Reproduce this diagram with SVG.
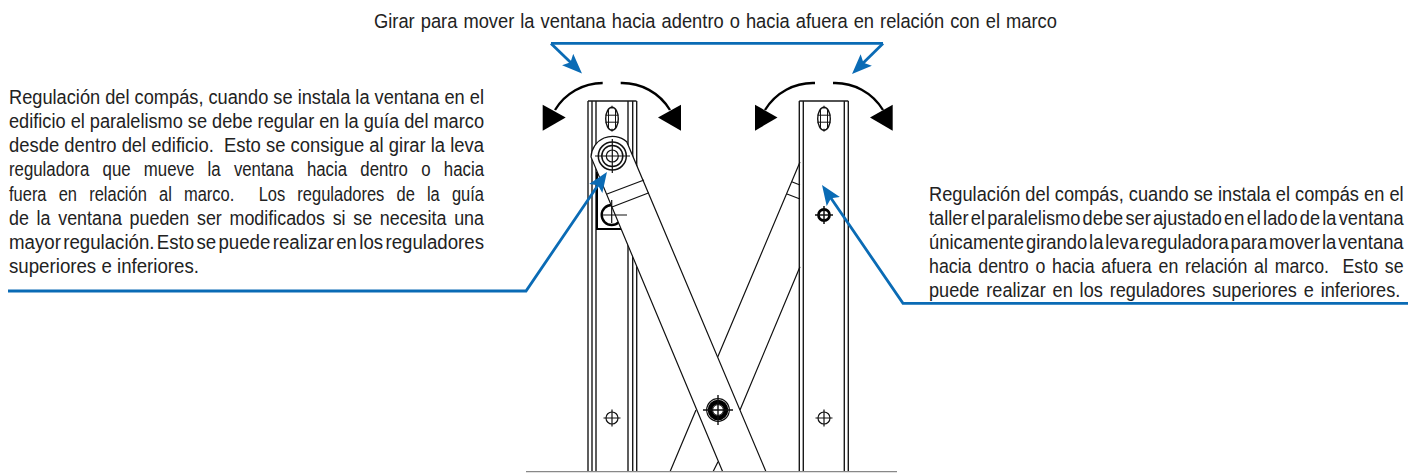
<svg xmlns="http://www.w3.org/2000/svg" width="1408" height="473" viewBox="0 0 1408 473">
<style>
text{font-family:"Liberation Sans",Arial,sans-serif;font-size:19.5px;fill:#222}
.r{stroke:#1a1a1a;stroke-width:1.4;fill:none}
.l{stroke:#111;stroke-width:1.2;fill:none}
.b{stroke:#0a6bb5;stroke-width:2.8;fill:none}
.c{stroke:#000;stroke-width:2.4;fill:none}
.h{fill:#000}
</style>
<defs>
<marker id="blue" markerUnits="userSpaceOnUse" markerWidth="24" markerHeight="18" refX="14" refY="8" orient="auto" viewBox="0 0 24 18"><path d="M0 0L20 8L0 16L4 8Z" fill="#0a6bb5"/></marker>
<g id="hole"><circle r="6" class="l"/><path class="l" d="M-8.5 0H8.5M0-8.5V8.5"/></g>
<g id="slot"><ellipse rx="6.3" ry="11.5" class="l" style="stroke-width:1.4"/><path class="l" d="M-3.5-9.5V9.5M3.5-9.5V9.5M0-13V-10M0 10V13M-6.5 -3.5H6.5M-6.5 3.5H6.5" style="stroke-width:1"/></g>
</defs>
<g id="left-rail">
<path class="r" d="M588 101H636.5M588 101V472M592 101V472M596 101V472M628 101V472M632.7 101V472M636.7 101V472"/>
<path class="c" style="stroke-width:2" d="M597 172V229H621"/>
<use href="#slot" x="612" y="118.7"/>
<use href="#hole" x="612" y="418"/>
<circle cx="611.7" cy="215" r="10" class="c"/>
</g>
<g id="right-rail">
<path class="r" d="M799.3 101H848.3M799.3 101V472M803.3 101V472M844.3 101V472M848.3 101V472"/>
<use href="#slot" x="824" y="118.7"/>
<circle cx="824" cy="215" r="5.5" fill="none" stroke="#000" stroke-width="2.8"/>
<path class="l" style="stroke-width:1.5" d="M815 215H833M824 206V224"/>
<use href="#hole" x="824" y="418"/>
</g>
<g id="back-arm">
<path class="l" d="M800 162L717.7 357M696 410L670 471.7M800 266.7L740 410M718 461.7L713 471.7M791.7 181.7L800 185M787 194L800 199"/>
</g>
<g id="front-arm">
<path d="M591 157A21.5 21.5 0 0 1 626.7 141.7L766 471.7H722.7Z" fill="#fff"/>
<path class="l" d="M722.7 471.7L591 157A21.5 21.5 0 0 1 626.7 141.7L766 471.7M607 194L644 180M612 207L649 192.7"/>
<path class="l" d="M602 215H627M611.7 200V223"/>
<circle cx="612.3" cy="156" r="14" class="l" style="stroke-width:1.5"/>
<circle cx="612.3" cy="156" r="10.5" class="l" style="stroke-width:1.5"/>
<circle cx="612.3" cy="156" r="6" class="l"/>
<path class="l" d="M595 156H630M612.3 139V173"/>
</g>
<g id="pivot">
<circle cx="718" cy="410" r="11.3" class="l"/>
<circle cx="718" cy="410" r="8" fill="none" stroke="#000" stroke-width="4.6"/>
<circle cx="718" cy="410" r="5.4" fill="#fff" stroke="#000"/>
<path class="l" style="stroke-width:1.4" d="M703 410H733M718 395V425"/>
</g>
<g id="base"><path d="M526 471.7H897" stroke="#888" stroke-width="1.3" fill="none"/></g>
<g id="connectors">
<path class="c" d="M602.7 83A56 56 0 0 0 555 110"/>
<path class="c" d="M620.7 83A56 56 0 0 1 670 110"/>
<path class="c" d="M815 83A56 56 0 0 0 765 110"/>
<path class="c" d="M833 83A56 56 0 0 1 883 110"/>
<path class="h" d="M542.7 104.7L565.7 117.5L542.7 130.7Z"/>
<path class="h" d="M681 104.7L658 117.5L681 130.7Z"/>
<path class="h" d="M755 104.7L777.5 117.5L755 130.7Z"/>
<path class="h" d="M892.7 104.7L870 117.5L892.7 130.7Z"/>
<path class="b" d="M551 43.4H883"/>
<path class="b" d="M883 43.4L856.3 69.8" marker-end="url(#blue)"/>
<path class="b" d="M551 43.4L577.7 69.3" marker-end="url(#blue)"/>
<path class="b" d="M8 291H526L603.6 177" marker-end="url(#blue)"/>
<path class="b" d="M1408 303.3H903L825.4 190" marker-end="url(#blue)"/>
</g>
<g id="top-label"><text transform="matrix(.84 0 0 1 374 28.3)" textLength="813" lengthAdjust="spacingAndGlyphs" style="word-spacing:1px">Girar para mover la ventana hacia adentro o hacia afuera en relación con el marco</text></g>
<g id="left-label">
<text x="9" y="104" textLength="475" lengthAdjust="spacingAndGlyphs">Regulación del compás, cuando se instala la ventana en el</text>
<text x="9" y="128" textLength="475" lengthAdjust="spacingAndGlyphs">edificio el paralelismo se debe regular en la guía del marco</text>
<text x="9" y="152.2" textLength="475" lengthAdjust="spacingAndGlyphs">desde dentro del edificio.&#160; Esto se consigue al girar la leva</text>
<text x="9" y="176.4" textLength="475" lengthAdjust="spacingAndGlyphs" style="word-spacing:10px">reguladora que mueve la ventana hacia dentro o hacia</text>
<text x="9" y="200.6" textLength="475" lengthAdjust="spacingAndGlyphs" style="word-spacing:9px">fuera en relación al marco.&#160; Los reguladores de la guía</text>
<text x="9" y="224.8" textLength="475" lengthAdjust="spacingAndGlyphs" style="word-spacing:3px">de la ventana pueden ser modificados si se necesita una</text>
<text x="9" y="249" textLength="475" lengthAdjust="spacingAndGlyphs" style="word-spacing:-3px">mayor regulación. Esto se puede realizar en los reguladores</text>
<text x="9" y="273" textLength="190" lengthAdjust="spacingAndGlyphs">superiores e inferiores.</text>
</g>
<g id="right-label">
<text transform="matrix(.84 0 0 1 929 201)" textLength="565" lengthAdjust="spacingAndGlyphs">Regulación del compás, cuando se instala el compás en el</text>
<text transform="matrix(.84 0 0 1 929 225)" textLength="565" lengthAdjust="spacingAndGlyphs" style="word-spacing:-3px">taller el paralelismo debe ser ajustado en el lado de la ventana</text>
<text transform="matrix(.84 0 0 1 929 249)" textLength="565" lengthAdjust="spacingAndGlyphs" style="word-spacing:-3.5px">únicamente girando la leva reguladora para mover la ventana</text>
<text transform="matrix(.84 0 0 1 929 273)" textLength="565" lengthAdjust="spacingAndGlyphs" style="word-spacing:2px">hacia dentro o hacia afuera en relación al marco.&#160; Esto se</text>
<text transform="matrix(.84 0 0 1 929 297)" textLength="561" lengthAdjust="spacingAndGlyphs" style="word-spacing:2px">puede realizar en los reguladores superiores e inferiores.</text>
</g>
</svg>
